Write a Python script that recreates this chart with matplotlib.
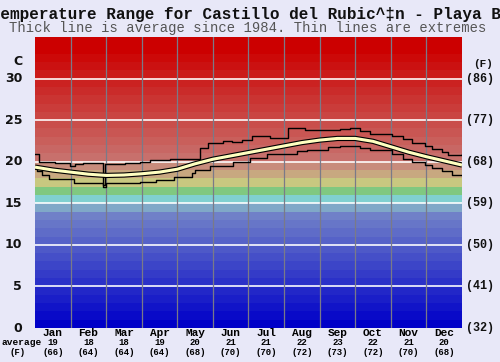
import numpy as np
import matplotlib.pyplot as plt

# monthly table under the chart
months = ['Jan', 'Feb', 'Mar', 'Apr', 'May', 'Jun',
          'Jul', 'Aug', 'Sep', 'Oct', 'Nov', 'Dec']
month_avg_c = [19, 18, 18, 19, 20, 21, 21, 22, 23, 22, 21, 20]
month_avg_f = [66, 64, 64, 64, 68, 70, 70, 72, 73, 72, 70, 68]

# axis labels
c_ticks = [0, 5, 10, 15, 20, 25, 30]
f_ticks = [32, 41, 50, 59, 68, 77, 86]

# average curve (position in months, deg C)
avg_pos = [0, 0.5, 1, 1.5, 2, 2.5, 3, 3.5, 4, 4.5, 5, 5.5, 6, 6.5, 7, 7.5,
           8, 8.5, 9, 9.5, 10, 10.5, 11, 11.5, 12]
avg_temp = [19.35, 19.0, 18.75, 18.5, 18.35, 18.4, 18.55, 18.75, 19.1, 19.75,
            20.3, 20.7, 21.1, 21.5, 21.9, 22.3, 22.6, 22.8, 22.8, 22.45,
            21.8, 21.15, 20.6, 20.1, 19.6]

# extremes (step lines)
max_pos = [0, 0.1, 0.56, 0.98, 1.12, 1.36, 1.92, 1.97, 2.53, 2.95, 3.23, 3.79,
           4.64, 4.87, 5.29, 5.53, 5.81, 6.09, 6.6, 7.12, 7.59, 8.24, 8.57,
           8.85, 9.13, 9.42, 10.02, 10.35, 10.59, 10.96, 11.15, 11.43, 11.62, 12]
max_temp = [20.9, 19.95, 19.85, 19.45, 19.7, 19.8, 17.2, 19.7, 19.85, 20.0,
            20.15, 20.35, 21.6, 22.2, 22.55, 22.4, 22.6, 23.05, 22.8, 24.05,
            23.8, 23.85, 23.95, 24.05, 23.7, 23.35, 23.1, 22.7, 22.3, 21.9,
            21.5, 21.2, 20.85, 20.9]

min_pos = [0, 0.07, 0.2, 0.4, 1.1, 1.92, 1.99, 2.95, 3.4, 3.9, 4.4, 4.5, 4.92,
           5.57, 6.04, 6.51, 7.35, 7.64, 8.24, 8.57, 9.13, 9.42, 10.02, 10.35,
           10.59, 10.96, 11.15, 11.43, 11.71, 12]
min_temp = [19.3, 18.9, 18.4, 17.9, 17.4, 17.0, 17.45, 17.6, 17.85, 18.2, 18.6,
            19.0, 19.5, 20.0, 20.45, 20.9, 21.25, 21.35, 21.75, 21.9, 21.7,
            21.35, 20.95, 20.35, 20.0, 19.6, 19.2, 18.85, 18.35, 18.35]


def band_color(k):
    # 1 degree colour bands: blue -> cyan -> green -> yellow -> red
    if k <= 13:
        f = k / 13
        return (112 * f / 255, 128 * f / 255, 200 / 255)
    special = {14: '#80a8c8', 15: '#80d0d0', 16: '#80c880',
               17: '#c8c880', 18: '#c8a880', 19: '#c88c7c'}
    if k in special:
        return special[k]
    f = min((k - 20) / 13, 1)
    return (200 / 255 + 4 * f / 255, 112 * (1 - f) / 255, 108 * (1 - f) / 255)


mono = 'Liberation Mono'
fig = plt.figure(figsize=(5, 3.62), dpi=100, facecolor='#e8e8f8')
ax = fig.add_axes([0.07, 0.0939, 0.854, 0.8039])

for k in range(35):
    ax.axhspan(k, k + 1, color=band_color(k), lw=0)
for c in c_ticks[1:]:
    ax.axhline(c, color='white', lw=1.3, alpha=0.9)
for m in range(1, 12):
    ax.axvline(m, color='#7a7a88', lw=0.9)

ax.step(max_pos, max_temp, where='post', color='black', lw=1.0)
ax.step(min_pos, min_temp, where='post', color='black', lw=1.0)
ax.plot(avg_pos, avg_temp, color='black', lw=3.8, solid_capstyle='butt')
ax.plot(avg_pos, avg_temp, color='#ffffc0', lw=2.2, solid_capstyle='butt')

ax.set_xlim(0, 12)
ax.set_ylim(0, 35)
ax.set_xticks([])
ax.set_yticks([])
for s in ax.spines.values():
    s.set_visible(False)

# y labels both sides
for c, f in zip(c_ticks, f_ticks):
    ax.text(-0.03, c, str(c), transform=ax.get_yaxis_transform(), ha='right',
            va='center', fontsize=9, fontweight='bold', color='#111111')
    ax.text(1.01, c, '(%d)' % f, transform=ax.get_yaxis_transform(),
            ha='left', va='center', fontsize=8.5, fontweight='bold',
            family=mono, color='#111111')
ax.text(-0.04, 32.0, 'C', transform=ax.get_yaxis_transform(), ha='center',
        va='center', fontsize=9, fontweight='bold', color='#111111')
ax.text(1.049, 31.8, '(F)', transform=ax.get_yaxis_transform(), ha='center',
        va='center', fontsize=8, fontweight='bold', family=mono,
        color='#111111')

# month table
for i, name in enumerate(months):
    ax.text(i + 0.5, -0.6, name, ha='center', va='center', fontsize=8,
            fontweight='bold', family=mono, clip_on=False)
    ax.text(i + 0.5, -1.8, str(month_avg_c[i]), ha='center', va='center',
            fontsize=6.5, fontweight='bold', family=mono, clip_on=False)
    ax.text(i + 0.5, -2.9, '(%d)' % month_avg_f[i], ha='center',
            va='center', fontsize=6.5, fontweight='bold', family=mono,
            clip_on=False)
ax.text(-0.37, -1.8, 'average', ha='center', va='center', fontsize=6.8,
        fontweight='bold', family=mono, clip_on=False)
ax.text(-0.48, -2.9, '(F)', ha='center', va='center', fontsize=6.5,
        fontweight='bold', family=mono, clip_on=False)

fig.text(-0.134, 1 - 14 / 362,
         'Water Temperature Range for Castillo del Rubic^\u2021n - Playa Blanca',
         ha='left', va='center', fontsize=11.5, fontweight='bold',
         family=mono, color='#111111')
fig.text(0.495, 1 - 28 / 362,
         'Thick line is average since 1984. Thin lines are extremes',
         ha='center', va='center', fontsize=10, family=mono, color='#555555')

fig.savefig('out.png', dpi=100, facecolor=fig.get_facecolor())
